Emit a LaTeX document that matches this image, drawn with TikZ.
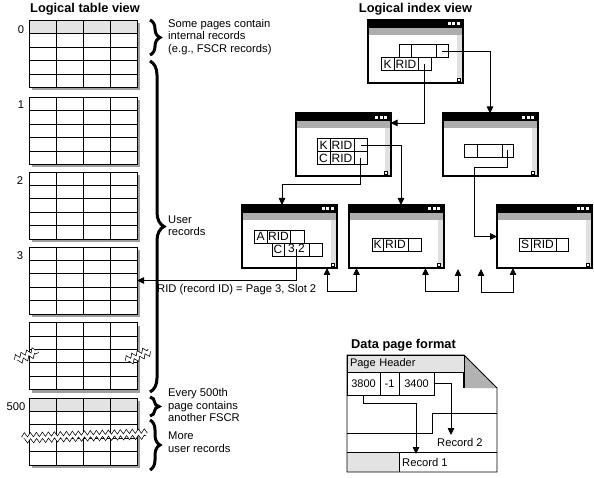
\documentclass[tikz,border=0pt]{standalone}
\usepackage{fontspec}
\setmainfont{Liberation Sans}
\usetikzlibrary{arrows.meta,calc,decorations.pathreplacing,decorations.pathmorphing,shadows}

\definecolor{bandgray}{gray}{0.68}
\definecolor{stripgray}{gray}{0.88}
\definecolor{hdrgray}{gray}{0.89}
\definecolor{foldgray}{gray}{0.7}

\tikzset{
  ttl/.style={font=\fontsize{12.8}{14}\selectfont\bfseries, inner sep=0pt},
  note/.style={anchor=west, align=left, inner sep=0pt, font=\fontsize{11.2}{12.4}\selectfont},
  lbl/.style={inner sep=0pt, font=\fontsize{11.2}{12}\selectfont},
  tbl/.style={draw, line width=0.8pt, fill=white, minimum width=108pt, minimum height=67pt,
    inner sep=0pt, outer sep=0pt,
    drop shadow={shadow xshift=3pt, shadow yshift=-3pt, fill=gray!75, opacity=1}},
  tline/.style={line width=0.8pt},
  brc/.style={decorate, line width=3pt},
  brk/.style={decorate, decoration={zigzag, segment length=6pt, amplitude=2.2pt},
    line width=0.7pt, double=white, double distance=2.6pt},
  idxwin/.style={draw, line width=2pt, fill=white, minimum width=95pt, minimum height=63pt,
    inner sep=0pt, outer sep=0pt,
    path picture={
      \fill[black] (path picture bounding box.north west) rectangle ([yshift=-8pt]path picture bounding box.north east);
      \fill[bandgray] ([yshift=-8pt]path picture bounding box.north west) rectangle ([yshift=-15pt]path picture bounding box.north east);
      \fill[stripgray] ([xshift=-6pt,yshift=-15pt]path picture bounding box.north east) rectangle (path picture bounding box.south east);
      \foreach \d in {6.5pt,11pt,15.5pt}
        \fill[white] ([xshift=-\d,yshift=-2.5pt]path picture bounding box.north east) rectangle ++(3pt,-3pt);
      \draw[line width=0.6pt, fill=white] ([xshift=-6pt,yshift=2pt]path picture bounding box.south east) rectangle ++(3pt,3pt);
    }},
  cell/.style={draw, fill=white, line width=0.7pt, minimum height=13pt, inner sep=0pt, outer sep=0pt,
    font=\fontsize{12}{12}\selectfont},
  pcell/.style={draw, fill=white, line width=0.7pt, minimum height=23pt, inner sep=0pt, outer sep=0pt,
    font=\fontsize{11}{12}\selectfont},
  arr/.style={-{Triangle[length=7pt,width=6.5pt]}, line width=0.8pt},
  arr2/.style={{Triangle[length=7pt,width=6.5pt]}-{Triangle[length=7pt,width=6.5pt]}, line width=0.8pt}
}

\begin{document}
\begin{tikzpicture}[x=1pt,y=-1pt]
\useasboundingbox (0,0) rectangle (594,478);

% titles
\node[ttl] (ttbl) at (85,9) {Logical table view};
\node[ttl] (tidx) at (415.5,9) {Logical index view};
\node[ttl] (tdat) at (403.5,345) {Data page format};

% table pages
\node[tbl] (t0) at (83,54) {};
\node[tbl] (t1) at (83,131) {};
\node[tbl] (t2) at (83,205.5) {};
\node[tbl] (t3) at (83,280.5) {};
\node[tbl] (t4) at (83,356) {};
\node[tbl] (t5) at (83,431.5) {};

% FSCR rows
\fill[hdrgray] (t0.north west) rectangle ($(t0.north east)!0.2!(t0.south east)$);
\fill[hdrgray] (t5.north west) rectangle ($(t5.north east)!0.2!(t5.south east)$);

\foreach \t in {t0,t1,t2,t3,t4,t5} {
  \foreach \i in {1,2,3}
    \draw[tline] ($(\t.north west)!\i/4!(\t.north east)$) -- ($(\t.south west)!\i/4!(\t.south east)$);
  \foreach \j in {1,2,3,4}
    \draw[tline] ($(\t.north west)!\j/5!(\t.south west)$) -- ($(\t.north east)!\j/5!(\t.south east)$);
  \draw[tline] (\t.north west) rectangle (\t.south east);
}

% page numbers
\node[lbl] (n0) at (21,30) {0};
\node[lbl] (n1) at (21,105) {1};
\node[lbl] (n2) at (20,181) {2};
\node[lbl] (n3) at (20,256) {3};
\node[lbl] (n500) at (16,407) {500};

% breaks
\draw[brk] (16,360) -- (38,351);
\draw[brk] (127,361) -- (149,351);
\draw[brk] (23,438) -- (146,434);

% braces
\draw[brc, decoration={brace, amplitude=10pt}] (150,20) -- (150,55);
\draw[brc, decoration={brace, amplitude=14pt}] (150,61) -- (150,392);
\draw[brc, decoration={brace, amplitude=9pt}] (150,397) -- (150,416);
\draw[brc, decoration={brace, amplitude=10pt}] (150,420) -- (150,470);

\node[note] (nsome) at (168,37) {Some pages contain\\internal records\\(e.g., FSCR records)};
\node[note] (nuser) at (168,226) {User\\records};
\node[note] (nevery) at (168,405) {Every 500th\\page contains\\another FSCR};
\node[note] (nmore) at (168,442) {More\\user records};

% index windows
\node[idxwin] (w0) at (415.5,51.5) {};
\node[idxwin] (w1) at (343,145) {};
\node[idxwin] (w2) at (490,145) {};
\node[idxwin] (w3) at (289.5,236.5) {};
\node[idxwin] (w4) at (396,236.5) {};
\node[idxwin] (w5) at (544.5,236.5) {};

% root
\node[cell, minimum width=12pt] (w0a) at (405,51) {};
\node[cell, minimum width=25pt] (w0b) at (423.5,51) {};
\node[cell, minimum width=12pt] (w0c) at (442,51) {};
\node[cell, minimum width=13pt] (w0k) at (387.5,64) {K};
\node[cell, minimum width=24pt] (w0rid) at (406,64) {RID};
\node[cell, minimum width=13pt] (w0p) at (424.5,64) {};

% second level
\node[cell, minimum width=13pt] (w1k) at (323.5,145) {K};
\node[cell, minimum width=24pt] (w1rid) at (342,145) {RID};
\node[cell, minimum width=13pt] (w1p) at (360.5,145) {};
\node[cell, minimum width=13pt] (w1c) at (323.5,158) {C};
\node[cell, minimum width=24pt] (w1rid2) at (342,158) {RID};
\node[cell, minimum width=13pt] (w1q) at (360.5,158) {};

\node[cell, minimum width=13pt] (w2a) at (470.5,150.5) {};
\node[cell, minimum width=25pt] (w2b) at (489.5,150.5) {};
\node[cell, minimum width=11pt] (w2c) at (507.5,150.5) {};

% leaves
\node[cell, minimum width=13pt] (w3a) at (260.5,236.5) {A};
\node[cell, minimum width=23pt] (w3rid) at (278.5,236.5) {RID};
\node[cell, minimum width=14pt] (w3p) at (297,236.5) {};
\node[cell, minimum width=12pt] (w3c) at (278,249.5) {C};
\node[cell, minimum width=25pt] (w3s) at (296.5,249.5) {3,2};
\node[cell, minimum width=13pt] (w3q) at (315.5,249.5) {};

\node[cell, minimum width=11pt] (w4k) at (377.5,244.5) {K};
\node[cell, minimum width=25pt] (w4rid) at (395.5,244.5) {RID};
\node[cell, minimum width=13pt] (w4p) at (414.5,244.5) {};

\node[cell, minimum width=12pt] (w5s) at (525,244.5) {S};
\node[cell, minimum width=25pt] (w5rid) at (543.5,244.5) {RID};
\node[cell, minimum width=12pt] (w5p) at (562,244.5) {};

% pointers
\draw[arr] (w0c.center) -| (w2.north);
\draw[arr] (w0p.center) |- ($(w1.north east)!0.15!(w1.south east)$);
\draw[arr] (w1p.center) -| ([xshift=5pt]w4.north);
\draw[arr] (w1q.center) -- ++(0,26) -| ([xshift=-7.5pt]w3.north);
\draw[arr] (w2c.center) -- ++(0,17) -| ([xshift=-23pt]w5.west) -- (w5.west);

% RID to table
\draw[arr] (w3s.center) |- (t3.east);
\node[note, anchor=north west] (nrid) at (157,284) {RID (record ID) = Page 3, Slot 2};

% leaf chain
\coordinate (gap1) at (458,269);
\coordinate (gap2) at (481,269);
\draw[arr2] ([xshift=-10pt]w3.south east) -- ++(0,23) -| ([xshift=8pt]w4.south west);
\draw[arr2] ([xshift=-18pt]w4.south east) -- ++(0,23) -| (gap1);
\draw[arr2] (gap2) -- ++(0,23) -| ([xshift=16pt]w5.south west);

% data page
\fill[foldgray] (464,355) -- (497,388) -- (464,388) -- cycle;
\fill[hdrgray] (347,452) rectangle (399,472);
\draw[line width=0.9pt] (347,355) -- (464,355) -- (497,388) -- (497,472) -- (347,472) -- cycle;
\draw[line width=1.6pt] (464,355) -- (464,388);
\draw[line width=0.9pt] (497,413) -- (432,413) -- (432,433) -- (347,433);
\draw[line width=0.9pt] (347,452) -- (497,452);
\draw[line width=0.9pt] (399,452) -- (399,472);

\node[pcell, fill=hdrgray, minimum height=17pt, text width=111pt, align=left, inner xsep=3pt] (phdr) at (405.5,363.5) {Page Header};
\node[pcell, minimum width=33pt] (d3800) at (363.5,383.5) {3800};
\node[pcell, minimum width=19pt] (dm1) at (389.5,383.5) {-1};
\node[pcell, minimum width=35pt] (d3400) at (416.5,383.5) {3400};

\node[note] (rec2l) at (437,442) {Record 2};
\node[note] (rec1l) at (402,462) {Record 1};
\coordinate (rec1) at (416,454);
\coordinate (rec2) at (451,435);
\draw[arr] (d3800.south) -- ++(0,8) -| (rec1);
\draw[arr] (d3400.east) -| (rec2);
\end{tikzpicture}
\end{document}
